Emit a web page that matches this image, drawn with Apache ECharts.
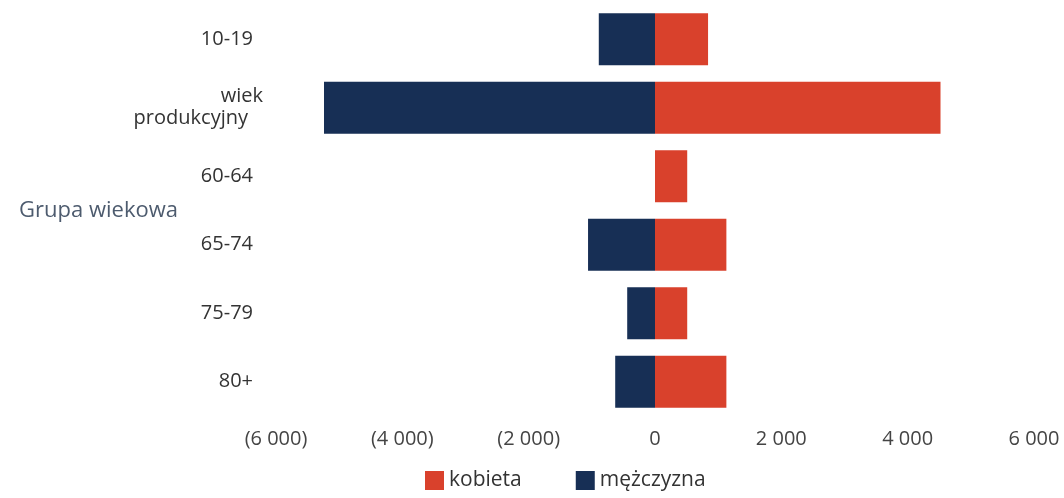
<!DOCTYPE html>
<html>
<head>
<meta charset="utf-8">
<script src="https://cdn.jsdelivr.net/npm/echarts@6/dist/echarts.min.js"></script>
<style>
html,body{margin:0;padding:0;background:#fff;}
#chart{width:1064px;height:498px;}
</style>
</head>
<body>
<div id="chart"></div>
<script>
var categories = ['10-19', 'wiek\nprodukcyjny', '60-64', '65-74', '75-79', '80+'];
var kobieta = [840, 4520, 510, 1130, 510, 1130];
var mezczyzna = [-890, -5240, 0, -1060, -440, -630];
var xTicks = [-6000, -4000, -2000, 0, 2000, 4000, 6000];

function fmt(v) {
  var s = Math.abs(v).toString().replace(/\B(?=(\d{3})+(?!\d))/g, ' ');
  return v < 0 ? '(' + s + ')' : s;
}

function catFmt(v) {
  var lines = v.split('\n');
  if (lines.length === 1) return '{n|' + v + '}';
  return '{a|' + lines[0] + '}\n{b|' + lines[1] + '}';
}

var lbl = { fontSize: 20, color: '#333', fontFamily: 'Open Sans', lineHeight: 22 };

var chart = echarts.init(document.getElementById('chart'));
chart.setOption({
  backgroundColor: '#ffffff',
  animation: false,
  textStyle: { fontFamily: 'Open Sans' },
  grid: { left: 276, right: 30, top: 5, bottom: 82, containLabel: false, outerBoundsMode: 'none' },
  legend: {
    bottom: 2,
    left: 420,
    itemWidth: 19,
    itemHeight: 19,
    itemGap: 54,
    icon: 'rect',
    textStyle: { fontSize: 21, color: '#333', fontFamily: 'Open Sans' },
    data: ['kobieta', 'mężczyzna']
  },
  xAxis: {
    type: 'value',
    min: xTicks[0],
    max: xTicks[xTicks.length - 1],
    interval: 2000,
    axisLine: { show: false },
    axisTick: { show: false },
    splitLine: { show: false },
    axisLabel: {
      formatter: fmt,
      fontSize: 20,
      color: '#444',
      margin: 13
    }
  },
  yAxis: {
    type: 'category',
    data: categories,
    inverse: true,
    name: 'Grupa wiekowa',
    nameLocation: 'middle',
    nameRotate: 0,
    nameGap: 98,
    nameMoveOverlap: false,
    nameTextStyle: { fontSize: 22, color: '#4d5b6e', fontFamily: 'Open Sans' },
    axisLine: { show: false },
    axisTick: { show: false },
    axisLabel: {
      fontSize: 20,
      color: '#333',
      margin: 13,
      lineHeight: 22,
      formatter: catFmt,
      rich: {
        n: Object.assign({ padding: [0, 10, 0, 0] }, lbl),
        a: Object.assign({ padding: [0, 0, 0, 0] }, lbl),
        b: Object.assign({ padding: [0, 15, 0, 0] }, lbl)
      }
    }
  },
  series: [
    {
      name: 'kobieta',
      type: 'bar',
      stack: 'total',
      barWidth: '76%',
      itemStyle: { color: '#d9412c' },
      data: kobieta
    },
    {
      name: 'mężczyzna',
      type: 'bar',
      stack: 'total',
      barWidth: '76%',
      itemStyle: { color: '#172f55' },
      data: mezczyzna
    }
  ]
});
</script>
</body>
</html>
